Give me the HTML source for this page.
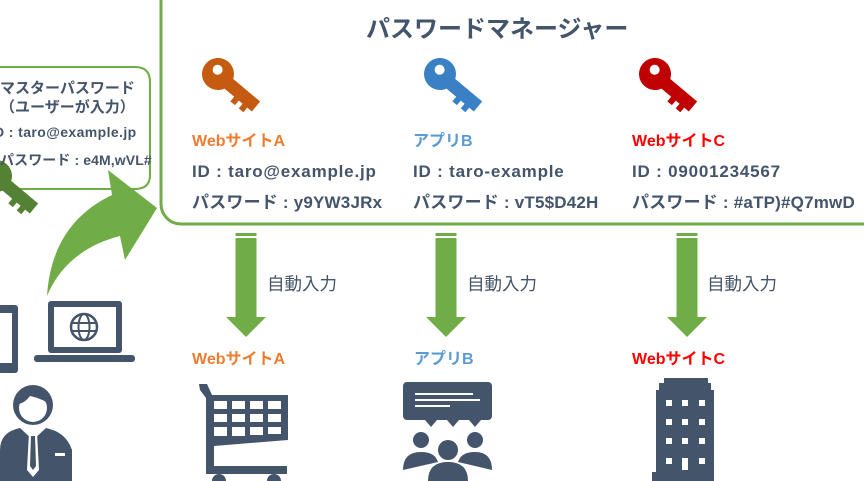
<!DOCTYPE html>
<html><head><meta charset="utf-8"><style>
body{margin:0;width:864px;height:481px;overflow:hidden;background:#fff;position:relative;font-family:"Liberation Sans","Noto Sans CJK JP",sans-serif;}
.t{position:absolute;white-space:nowrap;font-weight:bold;color:#44546A;}
.r{font-size:17px;letter-spacing:0.8px;}
.p{font-size:17px;letter-spacing:0.2px;}
svg{position:absolute;left:0;top:0}
</style></head><body>
<svg width="864" height="481" viewBox="0 0 864 481">
<defs>
<g id="key">
 <circle cx="0" cy="0" r="16"/>
 <path d="M6,-6 L50,-6 L50,7 L44,7 L44,13 L38,13 L38,7 L33,7 L33,13 L27,13 L27,7 L6,7Z"/>
</g>
<g id="darr">
 <rect x="-10.5" y="0" width="21" height="3"/>
 <rect x="-10.5" y="5" width="21" height="79"/>
 <polygon points="-20,84 20,84 0,104"/>
</g>
</defs>
<rect x="161" y="-30" width="740" height="254" rx="20" fill="#fff" stroke="#70AD47" stroke-width="3"/>
<path d="M-20,67 H135 Q150,67 150,82 V175 Q150,189 135,189 H-20Z" fill="#fff" stroke="#70AD47" stroke-width="2"/>
<g fill="#C55A11" transform="translate(218,74) rotate(40)"><use href="#key"/><circle cx="-3" cy="-3" r="5" fill="#fff"/></g>
<g fill="#3A80C4" transform="translate(440,74) rotate(40)"><use href="#key"/><circle cx="-3" cy="-3" r="5" fill="#fff"/></g>
<g fill="#C00000" transform="translate(655,74) rotate(40)"><use href="#key"/><circle cx="-3" cy="-3" r="5" fill="#fff"/></g>
<g fill="#548235" transform="translate(-4,176) rotate(40)"><use href="#key"/></g>
<path d="M47,296 C50,250 70,215 112,195 L108,170 L157,208 L125,260 L120,236 C85,245 60,265 47,296Z" fill="#70AD47"/>
<g fill="#70AD47"><use href="#darr" transform="translate(246,233)"/><use href="#darr" transform="translate(446,233)"/><use href="#darr" transform="translate(687,233)"/></g>
<g fill="#44546A">
<rect x="-10" y="305" width="28" height="68" rx="3"/><rect x="-6" y="313" width="18" height="50" fill="#fff"/>
<rect x="48" y="301" width="74" height="52" rx="3"/><rect x="54" y="307" width="62" height="40" fill="#fff"/>
<rect x="34" y="355" width="101" height="7" rx="3"/>
<circle cx="84" cy="327" r="13" fill="none" stroke="#44546A" stroke-width="2.5"/>
<ellipse cx="84" cy="327" rx="5.5" ry="13" fill="none" stroke="#44546A" stroke-width="2"/>
<line x1="71" y1="323" x2="97" y2="323" stroke="#44546A" stroke-width="2"/><line x1="71" y1="331" x2="97" y2="331" stroke="#44546A" stroke-width="2"/>
<circle cx="33" cy="405" r="20"/><path d="M0,481 V450 Q0,432 20,428 L33,440 L46,428 Q66,432 72,450 V481Z"/>
<circle cx="33" cy="408" r="14" fill="#fff"/><path d="M17,404 Q18,388 33,388 Q48,388 50,404 Q40,398 30,396 Q24,404 17,404Z"/>
<path d="M29,432 L37,432 L39,470 L33,477 L27,470Z" fill="#fff"/><path d="M31,436 L35,436 L36,466 L33,470 L30,466Z"/>
<rect x="55" y="453" width="10" height="3" fill="#fff"/>
<path d="M199,384 L207,384 L212,395 L288,395 L288,440 L214,446 L214,466 L287,466 L287,474 L206,474 L206,398 L200,390Z"/>
<g fill="#fff"><rect x="214" y="401" width="13" height="8"/><rect x="232" y="401" width="13" height="8"/><rect x="250" y="401" width="13" height="8"/><rect x="268" y="401" width="13" height="8"/>
<rect x="214" y="414" width="13" height="8"/><rect x="232" y="414" width="13" height="8"/><rect x="250" y="414" width="13" height="8"/><rect x="268" y="414" width="13" height="8"/>
<rect x="214" y="427" width="13" height="9"/><rect x="232" y="427" width="13" height="9"/><rect x="250" y="427" width="13" height="8"/><rect x="268" y="427" width="13" height="7"/></g>
<circle cx="219" cy="481" r="7"/><circle cx="274" cy="481" r="7"/>
<rect x="403" y="382" width="89" height="38" rx="4"/><polygon points="425,420 431,427 437,420 447,420 453,427 459,420 469,420 475,427 481,420"/>
<g stroke="#fff" stroke-width="2"><line x1="415" y1="394" x2="473" y2="394"/><line x1="415" y1="400" x2="480" y2="400"/><line x1="415" y1="406" x2="450" y2="406"/></g>
<circle cx="421" cy="440" r="8"/><circle cx="475" cy="440" r="8"/><circle cx="448" cy="450" r="10"/>
<path d="M403,470 Q403,452 421,452 Q435,452 438,462 L403,470Z"/><path d="M492,470 Q492,452 475,452 Q461,452 458,462Z"/>
<path d="M428,481 Q428,462 448,462 Q468,462 468,481Z"/>
<path d="M664,378 L708,378 L708,383 L711,383 L711,390 L714,390 L714,481 L652,481 L652,472 L656,472 L656,390 L659,390 L659,383 L664,383Z"/>
<g fill="#fff"><rect x="666" y="400" width="6" height="6"/><rect x="682" y="400" width="6" height="6"/><rect x="699" y="400" width="6" height="6"/>
<rect x="666" y="419" width="6" height="6"/><rect x="682" y="419" width="6" height="6"/><rect x="699" y="419" width="6" height="6"/>
<rect x="666" y="438" width="6" height="6"/><rect x="682" y="438" width="6" height="6"/><rect x="699" y="438" width="6" height="6"/>
<rect x="666" y="458" width="6" height="6"/><rect x="682" y="458" width="6" height="12"/><rect x="699" y="458" width="6" height="6"/></g>
</g>
</svg>
<div class="t" style="left:366px;top:9px;font-size:24px;">パスワードマネージャー</div>
<div class="t" style="left:0;top:77px;font-size:15px;">マスターパスワード</div>
<div class="t" style="left:0;top:96px;font-size:15px;">（ユーザーが入力）</div>
<div class="t" style="left:-6px;top:124px;font-size:14px;letter-spacing:0.4px">D : taro@example.jp</div>
<div class="t" style="left:0;top:150px;font-size:14px;letter-spacing:0.1px">パスワード : e4M,wVL#</div>
<div class="t" style="left:192px;top:127px;font-size:16px;color:#ED7D31">WebサイトA</div>
<div class="t" style="left:413px;top:127px;font-size:16px;color:#5B9BD5">アプリB</div>
<div class="t" style="left:632px;top:127px;font-size:16px;color:#FF0000">WebサイトC</div>
<div class="t r" style="left:192px;top:162px;">ID : taro@example.jp</div>
<div class="t p" style="left:192px;top:188px;">パスワード : y9YW3JRx</div>
<div class="t r" style="left:413px;top:162px;">ID : taro-example</div>
<div class="t p" style="left:413px;top:188px;">パスワード : vT5$D42H</div>
<div class="t r" style="left:632px;top:162px;">ID : 09001234567</div>
<div class="t p" style="left:632px;top:188px;">パスワード : #aTP)#Q7mwD</div>
<div class="t" style="left:267px;top:271px;font-size:17.5px;font-weight:normal">自動入力</div>
<div class="t" style="left:467px;top:271px;font-size:17.5px;font-weight:normal">自動入力</div>
<div class="t" style="left:707px;top:271px;font-size:17.5px;font-weight:normal">自動入力</div>
<div class="t" style="left:192px;top:345px;font-size:16px;color:#ED7D31">WebサイトA</div>
<div class="t" style="left:414px;top:345px;font-size:16px;color:#5B9BD5">アプリB</div>
<div class="t" style="left:632px;top:345px;font-size:16px;color:#FF0000">WebサイトC</div>
</body></html>
